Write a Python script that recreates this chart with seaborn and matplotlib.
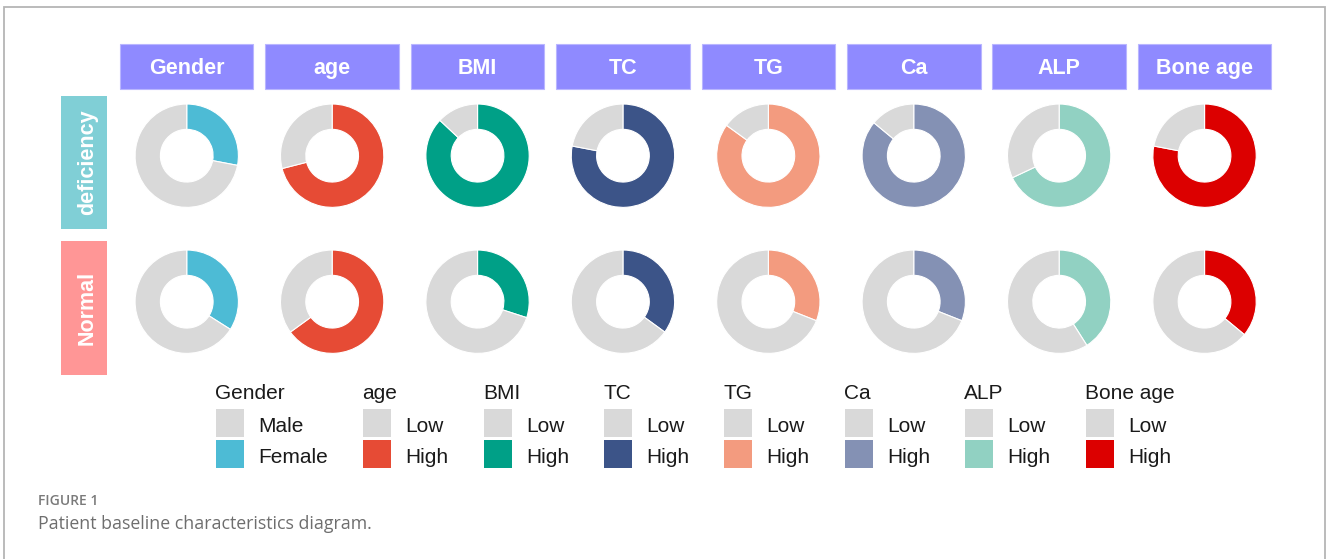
import matplotlib
matplotlib.use("Agg")
import matplotlib.pyplot as plt
from matplotlib.patches import Rectangle
import seaborn as sns

# ---- data -------------------------------------------------------------
variables = ["Gender", "age", "BMI", "TC", "TG", "Ca", "ALP", "Bone age"]
groups = ["deficiency", "Normal"]
low_labels = ["Male", "Low", "Low", "Low", "Low", "Low", "Low", "Low"]
high_labels = ["Female", "High", "High", "High", "High", "High", "High", "High"]

# percentage of patients in the coloured ("High"/"Female") category
high_deficiency = [28, 71, 87, 78, 85, 86, 68, 78]
low_deficiency = [72, 29, 13, 22, 15, 14, 32, 22]
high_normal = [34, 65, 30, 35, 31, 31, 41, 36]
low_normal = [66, 35, 70, 65, 69, 69, 59, 64]

# ---- styling ----------------------------------------------------------
sns.set_theme(style="white")
plt.rcParams["font.family"] = ["Liberation Sans", "DejaVu Sans"]

high_palette = sns.color_palette(["#4DBBD5", "#E64B35", "#00A087", "#3C5488",
                                  "#F39B7F", "#8491B4", "#91D1C2", "#DC0000"])
low_color = "#D9D9D9"
header_color = "#8F8AFF"
group_colors = ["#80CFD6", "#FF9696"]

W, H = 1328, 559
fig = plt.figure(figsize=(W / 100, H / 100), dpi=100)
fig.patch.set_facecolor("white")


def fx(px):
    return px / W


def fy(py):
    return 1 - py / H


def box(x0, y0, x1, y1, color, lw=0, ec="none"):
    fig.add_artist(Rectangle((fx(x0), fy(y1)), fx(x1) - fx(x0), fy(y0) - fy(y1),
                             transform=fig.transFigure, facecolor=color,
                             edgecolor=ec, linewidth=lw))


# outer frame
fig.add_artist(Rectangle((fx(4), fy(575)), fx(1325) - fx(4), fy(7) - fy(575),
                         transform=fig.transFigure, facecolor="none",
                         edgecolor="#B5B5B5", linewidth=1.3))

# ---- layout -----------------------------------------------------------
col_x0, col_step, col_w = 120, 145.4, 133.5
row_centers = [155.7, 301.7]
R = 52.7

# column headers
for i, name in enumerate(variables):
    x0 = col_x0 + i * col_step
    box(x0, 44, x0 + col_w, 89, header_color, lw=0.8, ec="#B9B6FF")
    fig.text(fx(x0 + col_w / 2), fy(74), name, ha="center", va="baseline",
             color="white", fontsize=15.5, fontweight="bold")

# row labels
row_boxes = [(95.5, 228.5), (241, 374.5)]
for j, (g, (y0, y1)) in enumerate(zip(groups, row_boxes)):
    box(61, y0, 107, y1, group_colors[j])
    fig.text(fx(93), fy((y0 + y1) / 2), g, rotation=90, rotation_mode="anchor",
             ha="center", va="baseline", color="white", fontsize=15.5,
             fontweight="bold")

# donuts
row_values = [(high_deficiency, low_deficiency), (high_normal, low_normal)]
for j, (highs, lows) in enumerate(row_values):
    cy = row_centers[j]
    for i in range(len(variables)):
        cx = col_x0 + i * col_step + col_w / 2
        ax = fig.add_axes([fx(cx - R), fy(cy + R), 2 * R / W, 2 * R / H])
        ax.pie([highs[i], lows[i]], colors=[high_palette[i], low_color],
               startangle=90, counterclock=False, radius=1,
               wedgeprops=dict(width=0.49, edgecolor="white", linewidth=0.8))
        ax.set_xlim(-1.02, 1.02)
        ax.set_ylim(-1.02, 1.02)
        ax.set_axis_off()

# legend
leg_x = [216, 363, 484, 604, 724, 845, 965, 1086]
sw = 28
for i, name in enumerate(variables):
    x = leg_x[i]
    fig.text(fx(x - 1), fy(399), name, ha="left", va="baseline",
             color="#1A1A1A", fontsize=15)
    for k, (lab, col, ytop) in enumerate(((low_labels[i], low_color, 409),
                                          (high_labels[i], high_palette[i], 440))):
        box(x, ytop, x + sw, ytop + sw, col)
        fig.text(fx(x + 42), fy(ytop + 23), lab, ha="left", va="baseline",
                 color="#1A1A1A", fontsize=15)

# caption
fig.text(fx(38), fy(505), "FIGURE 1", ha="left", va="baseline",
         family=["Open Sans", "DejaVu Sans"], fontsize=10, fontweight="semibold",
         color="#7A7A7A")
fig.text(fx(38), fy(529), "Patient baseline characteristics diagram.",
         ha="left", va="baseline", family=["Open Sans", "DejaVu Sans"],
         fontsize=12.8, color="#6E6E6E")

fig.savefig("out.png", dpi=100)
